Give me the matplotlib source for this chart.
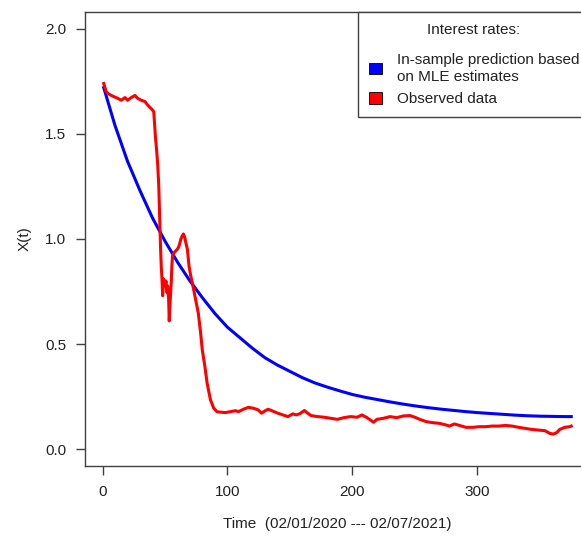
import matplotlib
matplotlib.use("Agg")
import matplotlib.pyplot as plt
from matplotlib.patches import Patch

plt.rcParams['font.family'] = ['Liberation Sans', 'DejaVu Sans']

# In-sample prediction (blue)
pred_t = [1, 10, 20, 30, 40, 50, 60, 70, 80, 90, 100, 110, 120, 130, 140, 150,
          160, 170, 180, 190, 200, 210, 220, 230, 240, 250, 260, 270, 280, 290,
          300, 310, 320, 330, 340, 350, 360, 370, 375]
pred_x = [1.72, 1.54, 1.37, 1.23, 1.10, 0.99, 0.89, 0.80, 0.72, 0.645, 0.58,
          0.53, 0.48, 0.435, 0.40, 0.37, 0.34, 0.315, 0.295, 0.277, 0.26,
          0.247, 0.236, 0.225, 0.215, 0.206, 0.198, 0.191, 0.185, 0.179,
          0.174, 0.17, 0.166, 0.162, 0.159, 0.157, 0.156, 0.155, 0.155]

obs_t = [1, 3, 5, 8, 12, 15, 18, 20, 23, 26, 28, 31, 34, 36, 39, 41, 41.5,
         42.3, 43.4, 44.2, 45, 45.5, 46, 46.5, 47, 47.6, 48.1, 48.9, 50, 50.8,
         51.6, 52.1, 52.9, 53.4, 54.2, 55, 55.5, 56, 57.4, 60, 61.3, 62.7,
         63.9, 64.7, 65.8, 66.6, 67.9, 69.2, 70.6, 71.8, 74.5, 76.6, 78.5,
         79.8, 81.9, 83.7, 86.4, 89, 91.6, 95, 98.3, 102, 106.2, 109, 112.7,
         116.7, 120.6, 124.6, 127.2, 129.9, 132.5, 135.2, 137.8, 140.4, 144.4,
         148.3, 152.3, 154.9, 157.6, 161.5, 164.2, 166.8, 172, 177.3, 182.6,
         187.9, 193.1, 198.4, 203.7, 207.6, 211.6, 214.2, 216.9, 219.5, 224.8,
         230, 235.3, 240.6, 245.9, 249.9, 253.8, 259.1, 264.3, 269.6, 274.9,
         277.5, 281.5, 285.4, 290.7, 296, 301.2, 306.5, 311.8, 317.1, 322.3,
         327.6, 332.9, 338.2, 343.4, 348.7, 354, 357.9, 360.6, 363.2, 365.8,
         369.8, 373.8, 375]
obs_x = [1.74, 1.70, 1.69, 1.68, 1.67, 1.66, 1.673, 1.66, 1.673, 1.683, 1.67,
         1.66, 1.654, 1.638, 1.62, 1.606, 1.56, 1.49, 1.415, 1.35, 1.255,
         1.144, 1.048, 0.95, 0.87, 0.81, 0.73, 0.81, 0.777, 0.80, 0.745,
         0.777, 0.713, 0.61, 0.713, 0.793, 0.872, 0.92, 0.936, 0.952, 0.968,
         1.0, 1.016, 1.024, 1.008, 0.984, 0.952, 0.872, 0.824, 0.793, 0.713,
         0.649, 0.553, 0.474, 0.394, 0.314, 0.234, 0.195, 0.178, 0.176, 0.174,
         0.178, 0.183, 0.179, 0.19, 0.199, 0.195, 0.187, 0.171, 0.182, 0.19,
         0.184, 0.177, 0.171, 0.163, 0.155, 0.168, 0.163, 0.168, 0.184, 0.171,
         0.160, 0.155, 0.152, 0.147, 0.142, 0.150, 0.155, 0.152, 0.163, 0.150,
         0.139, 0.128, 0.142, 0.147, 0.155, 0.150, 0.158, 0.160, 0.152, 0.142,
         0.131, 0.126, 0.123, 0.115, 0.110, 0.120, 0.113, 0.104, 0.104, 0.107,
         0.107, 0.110, 0.110, 0.113, 0.110, 0.104, 0.099, 0.094, 0.091, 0.088,
         0.075, 0.072, 0.078, 0.094, 0.104, 0.107, 0.110]

xticks = [0, 100, 200, 300]
yticks = [0.0, 0.5, 1.0, 1.5, 2.0]
ytick_labels = ["0.0", "0.5", "1.0", "1.5", "2.0"]

FS = 11

fig = plt.figure(figsize=(5.81, 5.41), dpi=100)
ax = fig.add_axes([85/581, 75/541, 505/581, 454/541])

ax.plot(pred_t, pred_x, color="#0000FF", lw=2.2, solid_joinstyle="round")
ax.plot(obs_t, obs_x, color="#FF0000", lw=2.2, solid_joinstyle="round")

ax.set_xlim(-14, 390)
ax.set_ylim(-0.08, 2.08)
ax.set_xticks(xticks)
ax.set_xticklabels([str(v) for v in xticks])
ax.set_yticks(yticks)
ax.set_yticklabels(ytick_labels)

for s in ax.spines.values():
    s.set_color("#404040")
    s.set_linewidth(1.0)
ax.tick_params(axis="both", direction="out", length=6.5, width=1.0,
               color="#404040", labelsize=FS, labelcolor="#222222", pad=7)

ax.set_xlabel("Time  (02/01/2020 --- 02/07/2021)", fontsize=FS,
              color="#222222", labelpad=13)
ax.set_ylabel("X(t)", fontsize=FS, color="#222222", labelpad=10)

handles = [Patch(facecolor="#0000FF", edgecolor="black", lw=0.6),
           Patch(facecolor="#FF0000", edgecolor="black", lw=0.6)]
labels = ["In-sample prediction based\non MLE estimates", "Observed data"]
leg = ax.legend(handles, labels, loc="upper right", borderaxespad=0,
                title="Interest rates:", fontsize=FS, title_fontsize=FS,
                fancybox=False, framealpha=1, edgecolor="#404040",
                handlelength=0.85, handleheight=0.8, handletextpad=1.0,
                labelspacing=0.55, borderpad=0.7)
leg.get_frame().set_linewidth(1.0)
leg._legend_box.sep = 12
for t in leg.get_texts():
    t.set_color("#222222")
leg.get_title().set_color("#222222")

fig.savefig("out.png", dpi=100)
